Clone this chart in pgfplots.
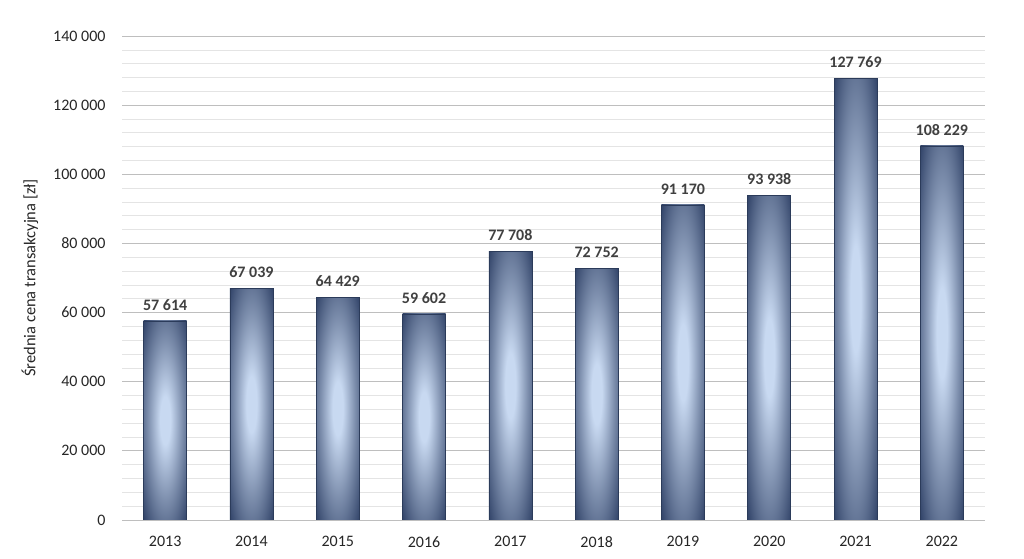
\documentclass[border=0pt]{standalone}
\usepackage{pgfplots}
\pgfplotsset{compat=1.18}
\usepackage{fontspec}
\setmainfont{Carlito}
\definecolor{bardark}{HTML}{33456A}
\definecolor{barlight}{HTML}{C8D9F1}
\definecolor{gridmaj}{HTML}{BEBEBE}
\definecolor{gridmin}{HTML}{E4E4E4}
\definecolor{txt}{HTML}{262626}
\definecolor{lbl}{HTML}{404040}
\pgfdeclareradialshading{barshade}{\pgfpoint{0bp}{0bp}}{color(0bp)=(barlight); color(6bp)=(barlight); color(20bp)=(bardark!50!barlight); color(35bp)=(bardark); color(75bp)=(bardark)}
\pgfplotsset{mybar/.style={ybar, bar width=43bp, bar shift=0pt,
    draw=bardark!85!black, line width=0.6pt, shade, shading=barshade,
    nodes near coords,
    nodes near coords style={font=\bfseries\fontsize{16bp}{18bp}\selectfont, text=lbl, yshift=7bp}}}
\begin{document}
\begin{tikzpicture}
\path (0,0) rectangle (1024bp,559bp);
\begin{axis}[
  at={(122bp,39bp)}, anchor=south west,
  scale only axis, width=863bp, height=484bp,
  xmin=-0.5, xmax=9.5, ymin=0, ymax=140000,
  axis line style={draw=none},
  major tick length=0pt, minor tick length=0pt,
  ymajorgrids, yminorgrids, minor y tick num=4,
  major grid style={gridmaj, line width=0.8pt},
  minor grid style={gridmin, line width=0.6pt},
  xtick={0,1,2,3,4,5,6,7,8,9},
  xticklabels={2013,2014,2015,2016,2017,2018,2019,2020,2021,2022},
  ytick={0,20000,40000,60000,80000,100000,120000,140000},
  scaled y ticks=false,
  /pgf/number format/.cd, fixed, 1000 sep={\ }, assume math mode=true, /pgfplots/.cd,
  ticklabel style={font=\fontsize{16bp}{18bp}\selectfont, text=txt},
  yticklabel style={xshift=-13bp},
  xticklabel style={yshift=-13bp},
  ylabel={Średnia cena transakcyjna [zł]},
  every axis y label/.style={at={(axis description cs:0,0.5)}, rotate=90, anchor=center, yshift=92bp,
    font=\fontsize{16.5bp}{18bp}\selectfont, text=txt},
]
\addplot[mybar] coordinates {(0,57614)};
\addplot[mybar] coordinates {(1,67039)};
\addplot[mybar] coordinates {(2,64429)};
\addplot[mybar] coordinates {(3,59602)};
\addplot[mybar] coordinates {(4,77708)};
\addplot[mybar] coordinates {(5,72752)};
\addplot[mybar] coordinates {(6,91170)};
\addplot[mybar] coordinates {(7,93938)};
\addplot[mybar] coordinates {(8,127769)};
\addplot[mybar] coordinates {(9,108229)};
\end{axis}
\end{tikzpicture}
\end{document}
